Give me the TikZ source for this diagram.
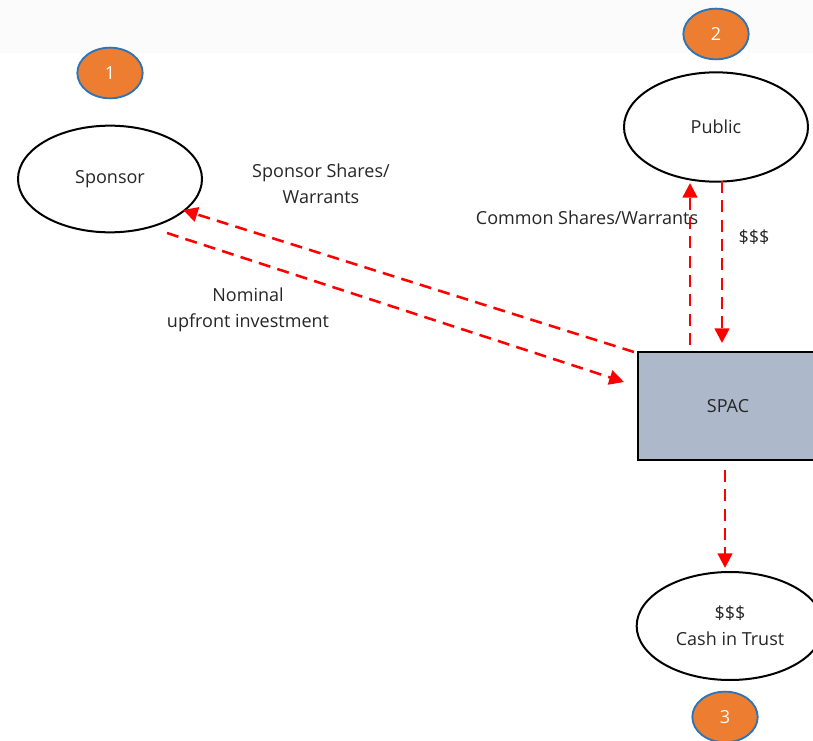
\documentclass[tikz,border=0pt]{standalone}
\usepackage{fontspec}
\setmainfont{Open Sans}
\usetikzlibrary{shapes.geometric,arrows.meta}
\definecolor{badgeorange}{HTML}{ED7D31}
\definecolor{badgeblue}{HTML}{2E75B6}
\definecolor{spacfill}{HTML}{ADB9CA}
\definecolor{inktext}{HTML}{262626}
\definecolor{flowred}{HTML}{FF0000}
\definecolor{topband}{HTML}{FBFBFB}
\tikzset{
  party/.style={ellipse, draw=black, line width=1.5pt, fill=white,
    minimum width=138pt, minimum height=80pt, inner sep=0pt,
    font=\fontsize{13.5}{19.5}\selectfont, text=inktext, align=center},
  badge/.style={ellipse, draw=badgeblue, line width=1.4pt, fill=badgeorange,
    minimum width=49pt, minimum height=38pt, inner sep=0pt,
    font=\fontsize{13.5}{15}\selectfont, text=white},
  vehicle/.style={rectangle, draw=black, line width=1.5pt, fill=spacfill,
    minimum width=135pt, minimum height=81pt, inner sep=0pt,
    font=\fontsize{13.5}{15}\selectfont, text=inktext},
  flow/.style={draw=flowred, line width=1.9pt, dash pattern=on 9pt off 5.5pt,
    -{Triangle[length=11pt,width=11pt]}},
  flowlabel/.style={font=\fontsize{13.5}{19.5}\selectfont, text=inktext, align=center}
}
\begin{document}
\begin{tikzpicture}[x=0.75pt,y=-0.75pt]
  \useasboundingbox (0,0) rectangle (813,741);
  \clip (0,0) rectangle (813,741);
  \fill[white] (0,0) rectangle (813,741);
  \fill[topband] (0,0) rectangle (813,53);

  % parties
  \node[party] (sponsor) at (110,179) {Sponsor};
  \node[party, minimum height=82pt] (public) at (716,127) {Public};
  \node[vehicle] (spac) at (728,406) {SPAC};
  \node[party, minimum width=140pt, minimum height=81pt] (trust) at (730,626)
    {\$\$\$\\Cash in Trust};

  % step badges
  \node[badge] (b1) at (110,73) {1};
  \node[badge] (b2) at (716,34) {2};
  \node[badge] (b3) at (725,717) {3};

  % connector end points
  \coordinate (sIn)  at (167,233);
  \coordinate (sOut) at (624,382);
  \coordinate (rIn)  at (634,352);
  \coordinate (rOut) at (183,210);
  \coordinate (uIn)  at (690,345);
  \coordinate (uOut) at (690,183);
  \coordinate (dIn)  at (722,181);
  \coordinate (dOut) at (722,343);
  \coordinate (tIn)  at (725,470);
  \coordinate (tOut) at (725,568);

  % flows
  \draw[flow] (sIn) -- (sOut);
  \draw[flow] (rIn) -- (rOut);
  \draw[flow] (uIn) -- (uOut);
  \draw[flow] (dIn) -- (dOut);
  \draw[flow] (tIn) -- (tOut);

  % flow labels
  \node[flowlabel] (l1) at (321,184) {Sponsor Shares/\\Warrants};
  \node[flowlabel] (l2) at (248,310) {Nominal\\upfront investment};
  \node[flowlabel] (l3) at (587,218) {Common Shares/Warrants};
  \node[flowlabel] (l4) at (754,237) {\$\$\$};
\end{tikzpicture}
\end{document}
